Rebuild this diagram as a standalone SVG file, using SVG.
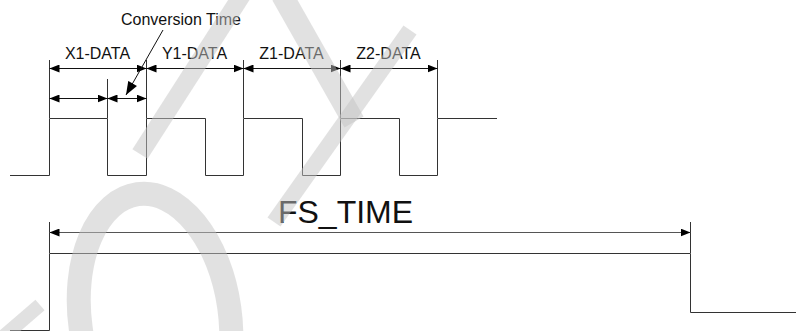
<svg xmlns="http://www.w3.org/2000/svg" width="796" height="331" viewBox="0 0 796 331">
  <defs>
    <marker id="ah" viewBox="0 0 10 8" refX="10" refY="4" markerWidth="10" markerHeight="8" markerUnits="userSpaceOnUse" orient="auto-start-reverse">
      <path d="M0,0 L10,4 L0,8 Z" fill="#000"/>
    </marker>
    <marker id="ahBig" viewBox="0 0 12 9" refX="12" refY="4.5" markerWidth="14" markerHeight="10" markerUnits="userSpaceOnUse" orient="auto">
      <path d="M0,0 L12,4.5 L0,9 Z" fill="#000"/>
    </marker>
    <style>
      .sig { fill: none; stroke: #333; stroke-width: 1; }
      .ext { fill: none; stroke: #333; stroke-width: 1; }
      .dim { fill: none; stroke: #111; stroke-width: 1; marker-start: url(#ah); marker-end: url(#ah); }
      .lbl { font-family: "Liberation Sans", Arial, sans-serif; font-size: 16px; fill: #111; text-anchor: middle; }
      .big { font-family: "Liberation Sans", Arial, sans-serif; font-size: 32px; fill: #111; text-anchor: middle; }
      .wm { fill: none; stroke: #c4c4c4; stroke-opacity: 0.5; }
    </style>
  </defs>

  <!-- top signal waveform -->
  <g id="signal-top">
    <path class="sig" d="M10,175.5 H49.5 V118.5 H107.5 V175.5 H146.5 V118.5 H205.5 V175.5 H243.5 V118.5 H302.5 V175.5 H340.5 V118.5 H399.5 V175.5 H437.5 V118.5 H497"/>
  </g>

  <!-- FS signal waveform -->
  <g id="signal-fs">
    <path class="sig" d="M10,330.5 H49.5 V253.5 H690.5 V312.5 H796"/>
  </g>

  <!-- extension lines and dimension arrows -->
  <g id="connectors">
    <path class="ext" d="M49.5,60 V118 M146.5,60 V118 M243.5,60 V118 M340.5,60 V118 M437.5,60 V118 M107.5,79 V118"/>
    <path class="ext" d="M49.5,222 V253 M690.5,222 V253"/>
    <line class="dim" x1="49.5" y1="68.5" x2="146.5" y2="68.5"/>
    <line class="dim" x1="146.5" y1="68.5" x2="243.5" y2="68.5"/>
    <line class="dim" x1="243.5" y1="68.5" x2="340.5" y2="68.5"/>
    <line class="dim" x1="340.5" y1="68.5" x2="437.5" y2="68.5"/>
    <line class="dim" x1="49.5" y1="98.5" x2="107.5" y2="98.5"/>
    <line class="dim" x1="107.5" y1="98.5" x2="146.5" y2="98.5"/>
    <line class="dim" x1="49.5" y1="232.5" x2="690.5" y2="232.5" style="stroke:#555"/>
    <line x1="163" y1="30" x2="126" y2="95" stroke="#111" stroke-width="1" marker-end="url(#ahBig)"/>
  </g>

  <!-- labels -->
  <g id="labels">
    <text class="lbl" x="181" y="25">Conversion Time</text>
    <text class="lbl" x="97.5" y="59">X1-DATA</text>
    <text class="lbl" x="194.5" y="59">Y1-DATA</text>
    <text class="lbl" x="291.5" y="59">Z1-DATA</text>
    <text class="lbl" x="388.5" y="59">Z2-DATA</text>
    <text class="big" x="345.5" y="223">FS_TIME</text>
  </g>

  <!-- faint watermark -->
  <g id="watermark">
    <ellipse class="wm" cx="155" cy="318" rx="75" ry="125" transform="rotate(-8 155 318)" stroke-width="24"/>
    <path class="wm" d="M140,154 L242,-5" stroke-width="18"/>
    <path class="wm" d="M282,-5 L354,122" stroke-width="22"/>
    <path class="wm" d="M410,30 L274,222" stroke-width="16"/>
    <path class="wm" d="M4,336 L40,305" stroke-width="14"/>
  </g>
</svg>
